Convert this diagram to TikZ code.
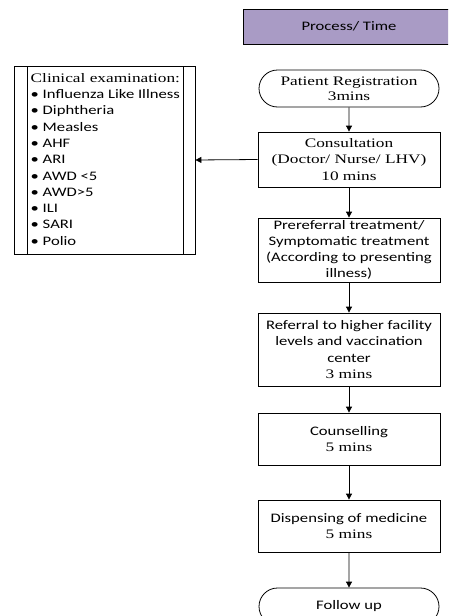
\documentclass[tikz,border=0pt]{standalone}
\usepackage{fontspec}
\setmainfont{Liberation Serif}[FakeStretch=1.33]
\newfontfamily\calibri{Carlito}[FakeStretch=1.28]
\usetikzlibrary{shapes.misc,arrows.meta}
\definecolor{hdrpurple}{HTML}{A99BC5}
\begin{document}
\begin{tikzpicture}[x=1pt,y=-1pt,
  box/.style={draw, line width=0.8pt, rectangle, minimum width=182pt, align=center, inner sep=1pt, font=\fontsize{13}{16.3}\selectfont},
  term/.style={draw, line width=0.8pt, rounded rectangle, minimum width=182pt, align=center, inner sep=1pt, font=\fontsize{13}{15.3}\selectfont},
  arr/.style={line width=0.8pt, -{Triangle[length=6pt,width=6pt]}}]
\useasboundingbox (0,0) rectangle (448,616);
\begin{scope}
\clip (0,0) rectangle (448,616);
\node[draw, line width=0.8pt, fill=hdrpurple, minimum width=212pt, minimum height=35pt, font=\calibri\fontsize{13}{15}\selectfont] (hdr) at (349,26.5) {Process/ Time};
\node[term, minimum height=37pt] (reg) at (349,88.5) {Patient Registration\\3mins};
\node[box, minimum height=55pt] (cons) at (349,159.5) {Consultation\\(Doctor/ Nurse/ LHV)\\10 mins};
\node[box, minimum height=64pt, font=\calibri\fontsize{13}{16}\selectfont] (pre) at (349,250) {Prereferral treatment/\\Symptomatic treatment\\(According to presenting\\illness)};
\node[box, minimum height=73pt] (ref) at (349,349.5) {{\calibri Referral to higher facility}\\{\calibri levels and vaccination}\\{\calibri center}\\3 mins};
\node[box, minimum height=52pt] (coun) at (349,439) {{\calibri Counselling}\\5 mins};
\node[box, minimum height=52pt] (disp) at (349,526) {{\calibri Dispensing of medicine}\\5 mins};
\node[term, minimum height=37pt, font=\calibri\fontsize{13}{15}\selectfont] (fol) at (349,606.5) {Follow up};
\end{scope}
\node[draw, line width=0.8pt, rectangle, minimum width=181pt, minimum height=188pt] (clin) at (104.5,160) {};
\draw[line width=0.8pt] (27,66) -- (27,254) (183,66) -- (183,254);
\node[anchor=north west, align=left, inner sep=0pt, font=\calibri\fontsize{13}{16.3}\selectfont] (clintext) at (30.5,73)
  {{\rmfamily Clinical examination:}\\
   • Influenza Like Illness\\
   • Diphtheria\\
   • Measles\\
   • AHF\\
   • ARI\\
   • AWD <5\\
   • AWD>5\\
   • ILI\\
   • SARI\\
   • Polio};
\draw[arr] (reg) -- (cons);
\draw[arr] (cons) -- (pre);
\draw[arr] (pre) -- (ref);
\draw[arr] (ref) -- (coun);
\draw[arr] (coun) -- (disp);
\draw[arr] (disp) -- (fol);
\draw[arr] (cons.west) -- (clin.east);
\end{tikzpicture}
\end{document}
